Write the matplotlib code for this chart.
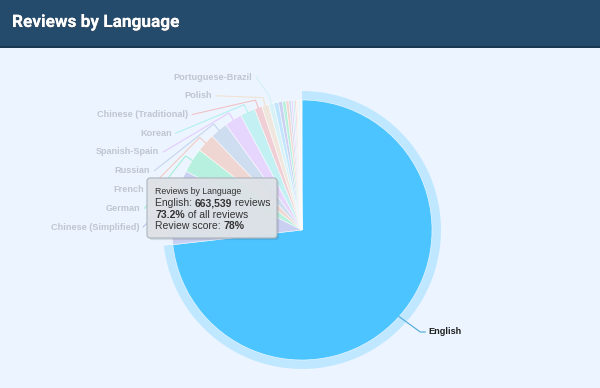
import numpy as np
import matplotlib.pyplot as plt
from matplotlib.patches import Rectangle, FancyBboxPatch
from matplotlib.colors import to_rgba
import matplotlib.patheffects as pe

W, H = 600, 388

# data (reviews per language)
languages = ["English", "Chinese (Simplified)", "German", "French", "Russian",
             "Spanish-Spain", "Korean", "Chinese (Traditional)", "Polish",
             "Portuguese-Brazil", "Turkish", "Japanese", "Spanish-Latin America",
             "Italian", "Czech", "Thai", "Ukrainian", "Portuguese", "Hungarian",
             "Dutch", "Swedish", "Finnish", "Danish", "Vietnamese", "Norwegian"]
reviews = [663539, 83850, 28100, 20850, 19950, 19500, 16850, 8500, 7800,
           6070, 5200, 4300, 4000, 3300, 2600, 2200, 1900, 1700, 1400,
           1200, 1000, 900, 700, 600, 500]
n_labeled = 10
hover_score = 78

palette = ["#2caffe", "#544fc5", "#00e272", "#fe6a35", "#6b8abc",
           "#d568fb", "#2ee0ca", "#fa4b42", "#feb56a", "#91e8e1"]

BG = "#ecf5ff"
BAR = "#244a6c"
EN_COLOR = "#4cc4ff"

fig = plt.figure(figsize=(W / 100, H / 100), dpi=100)
fig.patch.set_facecolor(BG)
ax = fig.add_axes([0, 0, 1, 1])
ax.set_facecolor(BG)

cx, cy, r = 302, 230, 130

colors = []
for i in range(len(reviews)):
    if i == 0:
        colors.append(EN_COLOR)
    else:
        colors.append(to_rgba(palette[i % len(palette)], 0.22))

# halo around hovered slice
halo_colors = [to_rgba(EN_COLOR, 0.28)] + ["none"] * (len(reviews) - 1)
ax.pie(reviews, colors=halo_colors, startangle=90, counterclock=False,
       center=(cx, H - cy), radius=r + 9,
       wedgeprops=dict(width=9, linewidth=0))

ax.pie(reviews, colors=colors, startangle=90, counterclock=False,
       center=(cx, H - cy), radius=r,
       wedgeprops=dict(linewidth=0.5, edgecolor=to_rgba("white", 0.7)))

ax.set_xlim(0, W)
ax.set_ylim(0, H)
ax.set_aspect("equal")
ax.axis("off")

# slice mid angles (clockwise from 12 o'clock)
vals = np.array(reviews, dtype=float)
frac = vals / vals.sum()
ends = np.cumsum(frac) * 360
mids = ends - frac * 180


def polar(angle, rad):
    a = np.deg2rad(angle)
    return cx + rad * np.sin(a), cy - rad * np.cos(a)


label_r = 160
lab_font = dict(family="Liberation Sans", fontweight="bold", fontsize=6.6)

# left side labels, stacked from bottom up
for i in range(1, n_labeled):
    ly = 227 - (i - 1) * 18.75
    lx = cx - np.sqrt(label_r ** 2 - (ly - cy) ** 2) - 3
    col = to_rgba(palette[i % len(palette)], 0.3)
    bx, by = polar(mids[i], r + 8)
    ex, ey = polar(mids[i], r)
    ax.plot([lx + 4, bx, ex], [H - ly, H - by, H - ey], color=col, lw=0.8)
    ax.text(lx, H - ly, languages[i], ha="right", va="center",
            color="#bfc6cf", **lab_font)

# English label
sx, sy = polar(mids[0], r)
ly = 332
lx = cx + np.sqrt(label_r ** 2 - (ly - cy) ** 2) + 3
ax.plot([sx, lx - 8, lx - 3], [H - sy, H - ly, H - ly], color="#4aa8d8", lw=0.8)
ax.text(lx, H - ly, languages[0], ha="left", va="center",
        color="#1e1e1e", **lab_font)

# title bar
fig.patches.append(Rectangle((0, 1 - 46 / H), 1, 46 / H, transform=fig.transFigure,
                             facecolor=BAR, edgecolor="none", zorder=0))
fig.patches.append(Rectangle((0, 1 - 47.5 / H), 1, 1.5 / H, transform=fig.transFigure,
                             facecolor="#1a3852", edgecolor="none", zorder=0))
fig.text(12 / W, 1 - 22.5 / H, "Reviews by Language", ha="left", va="center",
         color="white", fontsize=12.4, fontweight="bold", family="Roboto",
         path_effects=[pe.withSimplePatchShadow(offset=(0.8, -0.8), alpha=0.35),
                       pe.Normal()])

# tooltip
tip = FancyBboxPatch((147, H - 238), 130, 60, boxstyle="round,pad=0,rounding_size=3",
                     facecolor="#dfe3e8", edgecolor="#a9b1ba", lw=0.8, zorder=5,
                     alpha=0.95,
                     path_effects=[pe.SimplePatchShadow(offset=(1.5, -1.5), alpha=0.15),
                                   pe.Normal()])
ax.add_patch(tip)

tfont = dict(family="Liberation Sans", color="#333333", zorder=6)
total = vals.sum()
pct = reviews[0] / total * 100

ax.text(155, H - 191, "Reviews by Language", fontsize=6.3, va="center", **tfont)


def rich_line(x, y, parts, size):
    prev = None
    for txt, bold in parts:
        w = "bold" if bold else "normal"
        if prev is None:
            prev = ax.text(x, H - y, txt, fontsize=size, va="center",
                           fontweight=w, **tfont)
        else:
            prev = ax.annotate(txt, xy=(1, 0.5), xycoords=prev, va="center",
                               ha="left", fontsize=size, fontweight=w,
                               annotation_clip=False, **tfont)


rich_line(155, 203, [(f"{languages[0]}: ", False), (f"{reviews[0]:,}", True),
                     (" reviews", False)], 7.5)
rich_line(155, 214.5, [(f"{pct:.1f}%", True), (" of all reviews", False)], 7.5)
rich_line(155, 226, [("Review score: ", False), (f"{hover_score}%", True)], 7.5)

fig.savefig("out.png", dpi=100, facecolor=BG)
